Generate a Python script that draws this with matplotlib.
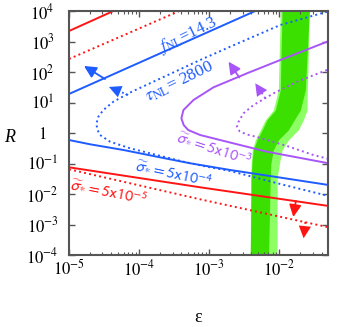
import matplotlib
matplotlib.use("Agg")
import matplotlib.pyplot as plt
import numpy as np

# values, stored as log10(epsilon), log10(R)

# upper straight lines
red_solid_up_eps = [-5.0, -4.367]
red_solid_up_R = [3.344, 4.0]
red_dot_up_eps = [-5.0, -3.426]
red_dot_up_R = [2.426, 4.0]
fnl_eps = [-5.0, -2.343]
fnl_R = [1.279, 4.0]

# tau_NL = 2800 (dotted blue, C shaped)
tau_eps = [-1.319, -1.986, -2.70, -3.129, -3.629, -4.104, -4.367, -4.51, -4.581, -4.61,
           -4.593, -4.557, -4.414, -4.129, -3.747, -3.367, -3.033, -2.70, -1.986, -1.296]
tau_R = [3.977, 3.541, 2.830, 2.393, 1.859, 1.354, 1.026, 0.754, 0.534, 0.295,
         0.098, -0.066, -0.285, -0.502, -0.721, -0.941, -1.105, -1.246, -1.672, -2.066]

# sigma = 5e-4 (solid blue)
blue_sig_eps = [-5.0, -4.7, -4.224, -3.747, -3.271, -2.70, -1.986, -1.296]
blue_sig_R = [-0.23, -0.37, -0.557, -0.777, -0.993, -1.213, -1.462, -1.705]

# sigma = 5e-3 (purple)
purple_eps = [-1.319, -1.986, -2.461, -2.939, -3.224, -3.367, -3.397, -3.364, -3.30,
              -3.129, -2.657, -2.176, -1.296]
purple_R = [2.993, 2.393, 1.957, 1.498, 1.082, 0.754, 0.482, 0.262, 0.098,
            -0.066, -0.338, -0.613, -0.993]
purple_dot_eps = [-1.319, -1.747, -2.081, -2.367, -2.51, -2.581, -2.604, -2.564,
                  -2.461, -2.319, -1.89, -1.514, -1.296]
purple_dot_R = [2.066, 1.682, 1.302, 0.918, 0.646, 0.370, 0.207, 0.049,
                -0.049, -0.131, -0.426, -0.721, -0.852]

# sigma = 5e-5 (red)
red_sig_eps = [-5.0, -3.129, -1.296]
red_sig_R = [-1.125, -1.78, -2.393]
red_dot_eps = [-5.0, -3.129, -1.296]
red_dot_R = [-1.19, -2.174, -3.092]

# green allowed bands
band_R = [4.0, 1.41, 0.75, 0.43, 0.10, -0.23, -0.56, -0.98, -1.44, -4.0]
dark_left = [-1.961, -1.986, -2.057, -2.176, -2.243, -2.319, -2.371, -2.39, -2.40, -2.414]
dark_right = [-1.571, -1.629, -1.70, -1.786, -1.871, -2.014, -2.086, -2.119, -2.129, -2.153]
light_left = [-1.986, -2.014, -2.086, -2.20, -2.271, -2.343, -2.386, -2.40, -2.41, -2.414]
light_right = [-1.571, -1.60, -1.604, -1.657, -1.729, -1.871, -1.961, -1.996, -2.029, -2.033]

x_ticks = [-5, -4, -3, -2]
y_ticks = [-4, -3, -2, -1, 0, 1, 2, 3, 4]

BLUE = "#1f5cff"
PURPLE = "#a855f7"
RED = "#ff1414"


def p(a):
    return 10.0 ** np.array(a)


def arrow(ax, tail, head, color, dotted=False):
    tail = np.array(tail)
    head = np.array(head)
    if dotted:
        # dotted shaft drawn on its own, arrow patch only gives the filled head
        mid = tail + 0.6 * (head - tail)
        ax.plot(p([tail[0], mid[0]]), p([tail[1], mid[1]]), color=color, lw=1.3, ls=":", zorder=4)
    ax.annotate("", xy=p(head), xytext=p(tail),
                arrowprops=dict(arrowstyle="-|>,head_length=0.4,head_width=0.2",
                                mutation_scale=22 if dotted else 18, color=color,
                                lw=0 if dotted else 1.3,
                                shrinkA=0, shrinkB=0), zorder=4)


def main():
    plt.rcParams["mathtext.fontset"] = "stix"
    plt.rcParams["font.family"] = ["Liberation Serif", "DejaVu Serif"]

    fig = plt.figure(figsize=(3.38, 3.27), dpi=100)
    ax = fig.add_axes([69 / 338, 1 - 255 / 327, (328.3 - 69) / 338, (255 - 11) / 327])
    ax.set_xscale("log")
    ax.set_yscale("log")

    ax.fill_betweenx(p(band_R), p(light_left), p(light_right), color="#8cff64", lw=0, zorder=1)
    ax.fill_betweenx(p(band_R), p(dark_left), p(dark_right), color="#3ce000", lw=0, zorder=1.5)

    lw = 1.4
    ax.plot(p(red_solid_up_eps), p(red_solid_up_R), color=RED, lw=lw)
    ax.plot(p(red_dot_up_eps), p(red_dot_up_R), color=RED, lw=lw, ls=":")
    ax.plot(p(fnl_eps), p(fnl_R), color=BLUE, lw=lw)
    ax.plot(p(tau_eps), p(tau_R), color=BLUE, lw=lw, ls=":")
    ax.plot(p(blue_sig_eps), p(blue_sig_R), color=BLUE, lw=lw)
    ax.plot(p(purple_eps), p(purple_R), color=PURPLE, lw=lw)
    ax.plot(p(purple_dot_eps), p(purple_dot_R), color=PURPLE, lw=lw, ls=":")
    ax.plot(p(red_sig_eps), p(red_sig_R), color=RED, lw=lw)
    ax.plot(p(red_dot_eps), p(red_dot_R), color=RED, lw=lw, ls=":")

    arrow(ax, [-4.486, 1.77], [-4.786, 2.197], BLUE)
    arrow(ax, [-4.157, 1.246], [-4.43, 1.51], BLUE, dotted=True)
    arrow(ax, [-2.571, 1.82], [-2.724, 2.338], PURPLE)
    arrow(ax, [-2.2, 1.138], [-2.343, 1.630], PURPLE, dotted=True)
    arrow(ax, [-1.764, -2.23], [-1.80, -2.754], RED)
    arrow(ax, [-1.629, -2.918], [-1.653, -3.452], RED, dotted=True)

    ax.text(10 ** -3.3, 10 ** 3.213, r"$f_{\rm NL}$=14.3", color=BLUE, fontsize=12,
            rotation=26, ha="center", va="center", rotation_mode="anchor", zorder=5)
    ax.text(10 ** -3.42, 10 ** 1.68, r"$\tau_{\rm NL}$= 2800", color=BLUE, fontsize=12.5,
            rotation=26, ha="center", va="center", rotation_mode="anchor", zorder=5,
            bbox=dict(facecolor="white", edgecolor="none", pad=0.2))
    sig_kw = dict(fontsize=11.5, ha="center", va="center", rotation_mode="anchor",
                  math_fontfamily="stixsans", zorder=5)
    ax.text(10 ** -2.929, 10 ** -0.492, r"$\widetilde{\sigma}_{*} = 5\mathrm{x}10^{-3}$",
            color=PURPLE, rotation=-18, **sig_kw)
    ax.text(10 ** -3.5, 10 ** -1.328, r"$\widetilde{\sigma}_{*} = 5\mathrm{x}10^{-4}$",
            color=BLUE, rotation=-12, **sig_kw)
    ax.text(10 ** -4.429, 10 ** -1.918, r"$\widetilde{\sigma}_{*} = 5\mathrm{x}10^{-5}$",
            color=RED, rotation=-11, **sig_kw)

    ax.set_xlim(1e-5, 5e-2)
    ax.set_ylim(1e-4, 1e4)
    ax.set_xticks(p(x_ticks))
    ax.set_xticklabels([r"$10^{%d}$" % t for t in x_ticks])
    ax.set_yticks(p(y_ticks))
    ax.set_yticklabels([r"$1$" if t == 0 else r"$10^{%d}$" % t for t in y_ticks])

    gray = "#555555"
    for s in ax.spines.values():
        s.set_color(gray)
        s.set_linewidth(1.5)
    ax.tick_params(which="both", direction="in", top=True, right=True, color=gray)
    ax.tick_params(which="major", length=4, width=1)
    ax.tick_params(which="minor", length=2.5, width=0.8)
    ax.tick_params(axis="x", which="major", labelsize=12, pad=3)
    ax.tick_params(axis="y", which="major", labelsize=12, pad=19)
    for lab in ax.get_yticklabels():
        lab.set_ha("center")

    fig.text(10 / 338, 1 - 137 / 327, "R", fontsize=13, style="italic", ha="center", va="center")
    fig.text(198 / 338, 1 - 318 / 327, "ε", fontsize=13, ha="center", va="center")

    fig.savefig("out.png", dpi=100)


if __name__ == "__main__":
    main()
